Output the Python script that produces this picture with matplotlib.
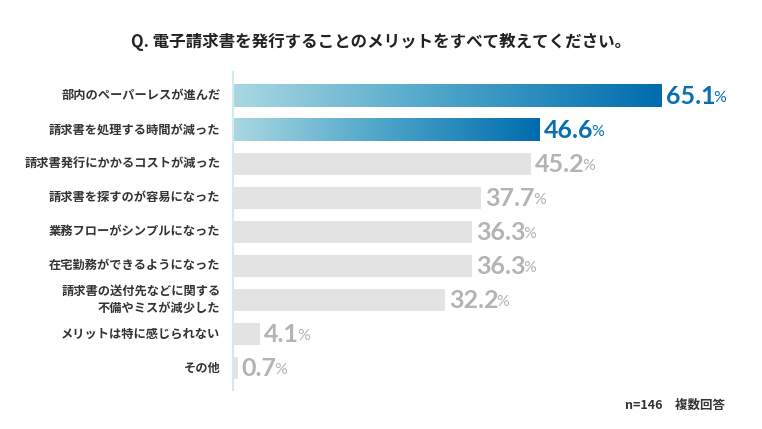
import numpy as np
import matplotlib.pyplot as plt
from matplotlib.colors import LinearSegmentedColormap

plt.rcParams['font.family'] = ['Noto Sans CJK JP', 'DejaVu Sans']

title = 'Q. 電子請求書を発行することのメリットをすべて教えてください。'
categories = [
    '部内のペーパーレスが進んだ',
    '請求書を処理する時間が減った',
    '請求書発行にかかるコストが減った',
    '請求書を探すのが容易になった',
    '業務フローがシンプルになった',
    '在宅勤務ができるようになった',
    '請求書の送付先などに関する\n不備やミスが減少した',
    'メリットは特に感じられない',
    'その他',
]
values = [65.1, 46.6, 45.2, 37.7, 36.3, 36.3, 32.2, 4.1, 0.7]
highlight = [True, True, False, False, False, False, False, False, False]
note = 'n=146　複数回答'

W, H = 762, 429
fig = plt.figure(figsize=(W / 100, H / 100), dpi=100)
ax = fig.add_axes([233 / W, 1 - 390 / H, 527 / W, 318 / H])

grad = LinearSegmentedColormap.from_list('g', ['#aad8e2', '#4aa3c8', '#006cae'])
gray = '#e3e3e3'
blue_txt = '#0a6fb0'
gray_txt = '#b4b4b4'
bar_h = 0.65
num_font = ['Lato', 'DejaVu Sans']

for i, (v, hl) in enumerate(zip(values, highlight)):
    if hl:
        ax.imshow(np.linspace(0, 1, 256).reshape(1, -1), cmap=grad, aspect='auto',
                  extent=(0, v, i + bar_h / 2, i - bar_h / 2), zorder=2)
    else:
        ax.barh(i, v, height=bar_h, color=gray, zorder=2)
    col = blue_txt if hl else gray_txt
    t = ax.annotate(f'{v:.1f}', xy=(v, i), xytext=(3, -0.5), textcoords='offset points',
                    ha='left', va='center', fontsize=18, fontweight='bold',
                    family=num_font, color=col, zorder=3)
    ax.annotate('%', xy=(1, 0), xycoords=t, xytext=(-1.5, 2.2), textcoords='offset points',
                ha='left', va='bottom', fontsize=11.5, family=num_font,
                color=col, zorder=3)
    ax.annotate(categories[i], xy=(0, i), xytext=(-9, 0), textcoords='offset points',
                ha='right', va='center', fontsize=8.8, fontweight='bold', color='#333333',
                linespacing=1.35)

ax.set_xlim(0, 80)
ax.set_ylim(8.65, -0.7)
for s in ['top', 'right', 'bottom']:
    ax.spines[s].set_visible(False)
ax.spines['left'].set_color('#d4eaf2')
ax.spines['left'].set_linewidth(1.5)
ax.spines['left'].set_zorder(4)
ax.set_xticks([])
ax.set_yticks([])

fig.text(0.5, 1 - 42 / H, title, ha='center', va='center', fontsize=11.9,
         fontweight='bold', color='#222222')
fig.text(725 / W, 1 - 405 / H, note, ha='right', va='center', fontsize=9,
         fontweight='bold', color='#333333')

fig.savefig('out.png', dpi=100, facecolor='white')
